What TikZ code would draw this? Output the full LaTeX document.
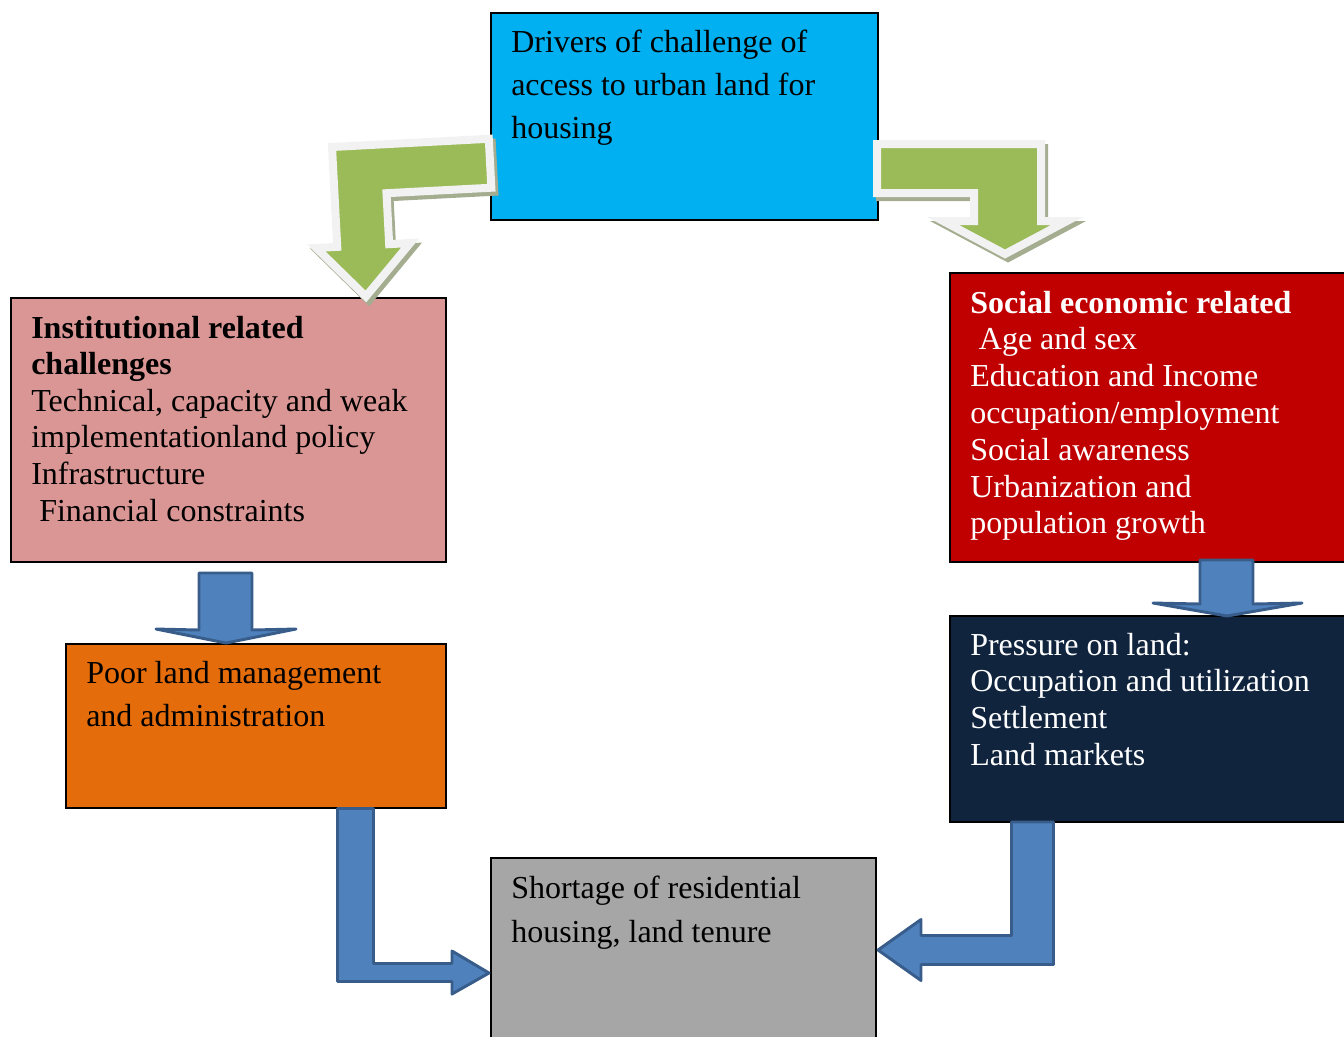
\documentclass[tikz,border=0pt]{standalone}
\usepackage{fontspec}
\setmainfont{Liberation Serif}

\definecolor{driverblue}{HTML}{00B0F0}
\definecolor{instpink}{HTML}{DA9694}
\definecolor{poororange}{HTML}{E46C0A}
\definecolor{shortgray}{HTML}{A6A6A6}
\definecolor{socialred}{HTML}{C00000}
\definecolor{pressnavy}{HTML}{10243E}
\definecolor{arrowgreen}{HTML}{9BBB59}
\definecolor{arrowrim}{HTML}{F2F2F2}
\definecolor{arrowshade}{HTML}{A4AD90}
\definecolor{arrowblue}{HTML}{4F81BD}
\definecolor{arrowedge}{HTML}{385D8A}

\begin{document}
\begin{tikzpicture}[x=0.75pt, y=-0.75pt,
    panel/.style={draw=black, line width=1.4pt, anchor=north west, inner sep=0pt},
    paneltext/.style={anchor=base west, inner sep=0pt, text width=380pt, align=flush left},
    greenarrow/.style={fill=arrowgreen, draw=arrowrim, line width=6pt, line join=miter},
    greenshadow/.style={fill=arrowshade, draw=arrowshade, line width=6pt, line join=miter},
    bluearrow/.style={fill=arrowblue, draw=arrowedge, line width=2.2pt, line join=round}]

    % Fix the page size
    \useasboundingbox (0,0) rectangle (1344,1036);

    % Draw the boxes
    \node[panel, fill=driverblue, minimum width=290.25pt, minimum height=155.25pt] (drivers) at (490,12) {};
    \node[panel, fill=instpink, minimum width=326.25pt, minimum height=198pt] (inst) at (10,297) {};
    \node[panel, fill=poororange, minimum width=285pt, minimum height=123pt] (poor) at (65,643) {};
    \node[panel, fill=shortgray, minimum width=288.75pt, minimum height=150pt] (shortage) at (490,857) {};
    \node[panel, fill=socialred, minimum width=315pt, minimum height=216.75pt] (social) at (949,272) {};
    \node[panel, fill=pressnavy, minimum width=315pt, minimum height=154.5pt] (pressure) at (949,615) {};

    % Add the texts of the boxes
    \node[paneltext, font={\fontsize{24pt}{32.25pt}\selectfont}] (driverstext)
        at ([shift={(21,40)}]drivers.north west)
        {Drivers of challenge of\\access to urban land for\\housing};
    \node[paneltext, font={\fontsize{24pt}{27.45pt}\selectfont}] (insttext)
        at ([shift={(21,41)}]inst.north west)
        {\textbf{Institutional related}\\\textbf{challenges}\\Technical, capacity and weak\\implementationland policy\\Infrastructure\\\hspace*{6pt}Financial constraints};
    \node[paneltext, font={\fontsize{24pt}{32.25pt}\selectfont}] (poortext)
        at ([shift={(21,40)}]poor.north west)
        {Poor land management\\and administration};
    \node[paneltext, font={\fontsize{24pt}{33pt}\selectfont}] (shortagetext)
        at ([shift={(21,41)}]shortage.north west)
        {Shortage of residential\\housing, land tenure};
    \node[paneltext, text=white, font={\fontsize{24pt}{27.6pt}\selectfont}] (socialtext)
        at ([shift={(21,41)}]social.north west)
        {\textbf{Social economic related}\\\hspace*{6.5pt}Age and sex\\Education and Income\\occupation/employment\\Social awareness\\Urbanization and\\population growth};
    \node[paneltext, text=white, font={\fontsize{24pt}{27.5pt}\selectfont}] (pressuretext)
        at ([shift={(21,40)}]pressure.north west)
        {Pressure on land:\\Occupation and utilization\\Settlement\\Land markets};

    % Bent green arrow from drivers to institutional (slightly tilted)
    \begin{scope}[shift={(335,151)}, rotate=3]
        \draw[greenshadow] (0,0) -- (157,0) -- (157,49) -- (52,49) -- (52,100) -- (73,100)
            -- (26,151) -- (-21,100) -- (0,100) -- cycle;
    \end{scope}
    \begin{scope}[shift={(332,147)}, rotate=3]
        \draw[greenarrow] (0,0) -- (157,0) -- (157,49) -- (52,49) -- (52,100) -- (73,100)
            -- (26,151) -- (-21,100) -- (0,100) -- cycle;
    \end{scope}

    % Bent green arrow from drivers to social
    \draw[greenshadow, shift={(3,4)}] (877,144) -- (1041,144) -- (1041,221) -- (1067,221)
        -- (1005,254) -- (943,221) -- (974,221) -- (974,193) -- (877,193) -- cycle;
    \draw[greenarrow] (877,144) -- (1041,144) -- (1041,221) -- (1067,221)
        -- (1005,254) -- (943,221) -- (974,221) -- (974,193) -- (877,193) -- cycle;

    % Blue arrow from institutional to poor land
    \draw[bluearrow] (199,573) -- (252,573) -- (252,630) -- (296,629) -- (226,643)
        -- (156,629) -- (199,630) -- cycle;

    % Blue arrow from social to pressure
    \draw[bluearrow] (1200,560) -- (1253,560) -- (1253,604) -- (1302,603) -- (1227,616)
        -- (1153,603) -- (1200,604) -- cycle;

    % Blue bent arrow from poor land to shortage
    \draw[bluearrow] (337.5,808.5) -- (373.5,808.5) -- (373.5,963.5) -- (452,963.5)
        -- (452,951) -- (489,973) -- (452,994) -- (452,981.5) -- (337.5,981.5) -- cycle;

    % Blue bent arrow from pressure to shortage
    \draw[bluearrow] (1053.5,822) -- (1011.5,822) -- (1011.5,935.5) -- (921,935.5)
        -- (921,919.5) -- (878,950) -- (921,980.5) -- (921,964.5) -- (1053.5,964.5) -- cycle;

\end{tikzpicture}
\end{document}
